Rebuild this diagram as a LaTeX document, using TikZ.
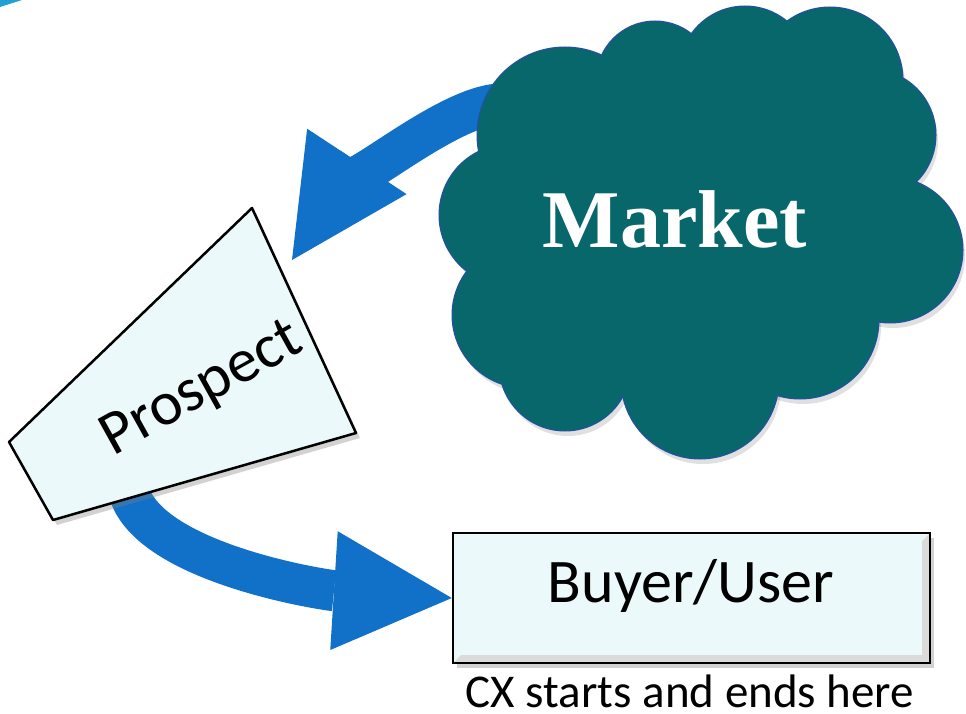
\documentclass[tikz,border=0pt]{standalone}
\usepackage{fontspec}
\setmainfont{Carlito}
\newfontfamily\mktfont{Liberation Serif}
\usetikzlibrary{arrows.meta,shadows}
\definecolor{arrowblue}{RGB}{17,112,200}
\definecolor{cloudteal}{RGB}{8,103,107}
\definecolor{cloudedge}{RGB}{32,84,150}
\definecolor{boxfill}{RGB}{236,249,251}
\tikzset{every node/.append style={inner sep=0pt}}
\tikzset{bigarrow/.style={draw=arrowblue, line width=41pt,
    -{Triangle[length=118pt,width=119pt,line width=0pt]}}}
\tikzset{boxshadow/.style={drop shadow={opacity=0.35,shadow xshift=4pt,shadow yshift=-5pt}}}
\tikzset{buyerbox/.style={draw=black, line width=2.5pt, fill=boxfill, boxshadow,
    path picture={
      \fill[black!14] (path picture bounding box.south west)
        -- (path picture bounding box.south east)
        -- (path picture bounding box.north east)
        -- ([xshift=-8pt,yshift=-8pt]path picture bounding box.north east)
        -- ([xshift=-8pt,yshift=8pt]path picture bounding box.south east)
        -- ([xshift=8pt,yshift=8pt]path picture bounding box.south west) -- cycle;}}}

\begin{document}
\begin{tikzpicture}[x=1pt,y=-1pt]
  \fill[white] (0,0) rectangle (966,714);
  \useasboundingbox (0,0) rectangle (966,714);

  % corner of the slide frame
  \fill[cyan!70!teal] (0,0) -- (22,0) -- (0,7) -- cycle;

  \node[buyerbox, minimum width=477pt, minimum height=130pt] (buyer) at (691.5,598) {};
  \node[font=\fontsize{62}{70}\selectfont, anchor=base] (buyerlbl) at (691,602) {Buyer/User};
  \node[font=\fontsize{47}{54}\selectfont, anchor=base] (cxnote) at (690,707) {CX starts and ends here};

  % arrows, behind the cloud and the prospect
  \coordinate (mktout) at (505,104);
  \coordinate (prosin) at (292,260);
  \coordinate (prosout) at (127,480);
  \draw[bigarrow] (mktout) .. controls (445,100) and (317,222) .. (prosin);
  \draw[bigarrow] (prosout) .. controls (130,560) and (324,590) .. (buyer.west);

  % cloud
  \foreach \cx/\cy/\r in {565/135/87, 655/80/58, 745/72/65, 830/80/72, 870/135/65,
      890/250/72, 800/320/78, 700/380/78, 565/365/65, 525/315/72, 510/215/70}{
    \fill[black, opacity=0.12] (\cx+3,\cy+6) circle (\r);
  };
  \foreach \cx/\cy/\r in {565/135/87, 655/80/58, 745/72/65, 830/80/72, 870/135/65,
      890/250/72, 800/320/78, 700/380/78, 565/365/65, 525/315/72, 510/215/70}{
    \draw[cloudedge, line width=3pt] (\cx,\cy) circle (\r);
  };
  \foreach \cx/\cy/\r in {565/135/87, 655/80/58, 745/72/65, 830/80/72, 870/135/65,
      890/250/72, 800/320/78, 700/380/78, 565/365/65, 525/315/72, 510/215/70}{
    \fill[cloudteal] (\cx,\cy) circle (\r);
  };
  \fill[cloudteal] (565,135) -- (655,80) -- (745,72) -- (830,80) -- (870,135) -- (890,250)
    -- (800,320) -- (700,380) -- (565,365) -- (525,315) -- (510,215) -- cycle;
  \node[font=\mktfont\bfseries\fontsize{82}{90}\selectfont, text=white, anchor=base] (market) at (675,247) {Market};

  % prospect
  \coordinate (p1) at (252,208);
  \coordinate (p2) at (356,433);
  \coordinate (p3) at (53,520);
  \coordinate (p4) at (9,442);
  \draw[line width=2.5pt, fill=boxfill, boxshadow, line join=round] (p1) -- (p2) -- (p3) -- (p4) -- cycle;
  \node[rotate=29, font=\fontsize{62}{70}\selectfont] (prospect) at (202,390) {Prospect};
\end{tikzpicture}
\end{document}
